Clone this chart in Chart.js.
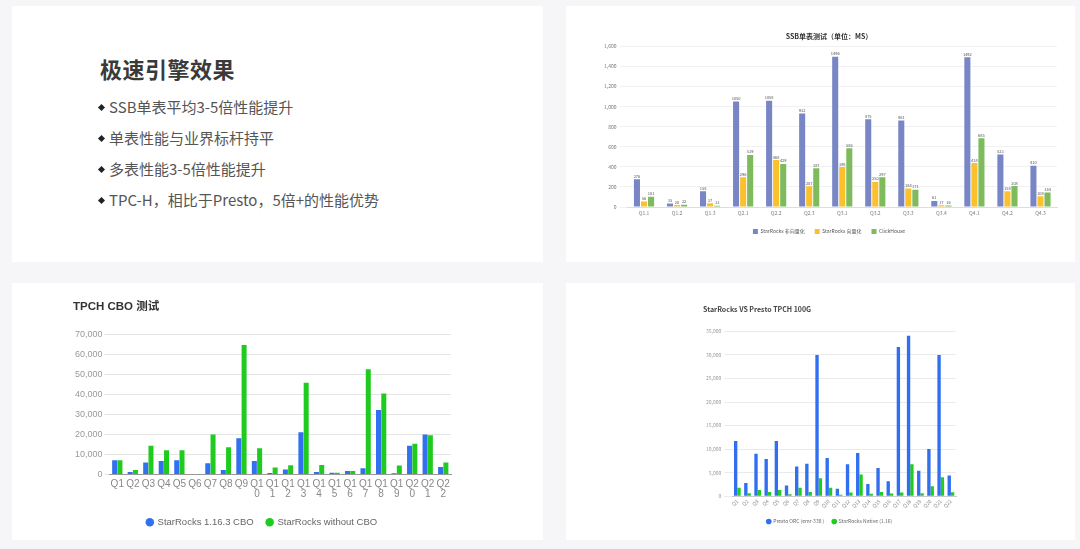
<!DOCTYPE html>
<html lang="zh">
<head>
<meta charset="UTF-8">
<title>极速引擎效果</title>
<script src="https://cdn.jsdelivr.net/npm/chart.js"></script>
<style>
  body { margin: 0; width: 1080px; height: 549px; background: #f6f6f9; position: relative; overflow: hidden;
         font-family: "Noto Sans CJK SC", "Noto Sans", sans-serif; }
  .panel { position: absolute; background: #fff; }
  .panel canvas { position: absolute; left: 0; top: 0; }
  h1 { position: absolute; left: 88px; top: 46px; margin: 0; font-size: 22px; font-weight: 700; color: #3a3a3a; letter-spacing: 0.5px; }
  ul { position: absolute; left: 84px; top: 85px; margin: 0; padding: 0; list-style: none; }
  li { font-size: 15px; color: #555; height: 31px; line-height: 31px; position: relative; padding-left: 13px; }
  li::before { content: ""; position: absolute; left: 3px; top: 14px; width: 5px; height: 5px; background: #222; transform: rotate(45deg); }
</style>
</head>
<body>
<div class="panel" style="left:12px;top:6px;width:531px;height:256px;">
  <h1>极速引擎效果</h1>
  <ul>
    <li>SSB单表平均3-5倍性能提升</li>
    <li>单表性能与业界标杆持平</li>
    <li>多表性能3-5倍性能提升</li>
    <li>TPC-H，相比于Presto，5倍+的性能优势</li>
  </ul>
</div>
<div class="panel" style="left:566px;top:6px;width:509px;height:256px;"><canvas id="ssb" width="509" height="256"></canvas></div>
<div class="panel" style="left:12px;top:283px;width:531px;height:257px;"><canvas id="cbo" width="531" height="257"></canvas></div>
<div class="panel" style="left:566px;top:283px;width:509px;height:257px;"><canvas id="presto" width="509" height="257"></canvas></div>

<script>
// SSB 单表测试
const ssbCats = ['Q1.1', 'Q1.2', 'Q1.3', 'Q2.1', 'Q2.2', 'Q2.3', 'Q3.1', 'Q3.2', 'Q3.3', 'Q3.4', 'Q4.1', 'Q4.2', 'Q4.3'];
const ssbNonVec = [276, 35, 158, 1050, 1058, 932, 1496, 875, 861, 61, 1492, 523, 410];
const ssbVec = [56, 20, 37, 296, 468, 207, 398, 250, 184, 17, 438, 158, 108];
const ssbClick = [101, 22, 13, 519, 429, 387, 586, 297, 171, 16, 685, 208, 144];

// TPCH CBO 测试
const cboCats = ['Q1', 'Q2', 'Q3', 'Q4', 'Q5', 'Q6', 'Q7', 'Q8', 'Q9',
  ['Q1', '0'], ['Q1', '1'], ['Q1', '2'], ['Q1', '3'], ['Q1', '4'], ['Q1', '5'], ['Q1', '6'],
  ['Q1', '7'], ['Q1', '8'], ['Q1', '9'], ['Q2', '0'], ['Q2', '1'], ['Q2', '2']];
const cboWith = [7100, 1200, 6000, 6800, 7100, 300, 5600, 2300, 18200, 6800, 800, 2500, 21200, 1300, 900, 1800, 3100, 32300, 600, 14400, 20000, 3800];
const cboWithout = [7200, 2200, 14400, 12100, 12100, 300, 20000, 13600, 64900, 13100, 3500, 4600, 46000, 4800, 900, 1800, 52800, 40600, 4500, 15400, 19700, 6000];

// StarRocks VS Presto TPCH 100G
const prestoCats = ['Q1', 'Q2', 'Q3', 'Q4', 'Q5', 'Q6', 'Q7', 'Q8', 'Q9', 'Q10', 'Q11',
  'Q12', 'Q13', 'Q14', 'Q15', 'Q16', 'Q17', 'Q18', 'Q19', 'Q20', 'Q21', 'Q22'];
const prestoOrc = [11700, 2800, 9000, 7900, 11700, 2300, 6300, 6900, 30000, 8100, 1600, 6800, 9200, 2600, 6000, 3200, 31700, 34100, 5400, 10000, 30000, 4400];
const srNative = [1800, 640, 1300, 900, 1300, 400, 1800, 900, 3800, 1800, 300, 800, 4600, 500, 900, 600, 800, 6800, 650, 2100, 4000, 850];

const FONT = '"Noto Sans CJK SC", "Noto Sans", sans-serif';
const LAT = '"Liberation Sans", "Noto Sans CJK SC", sans-serif';
Chart.defaults.font.family = FONT;
Chart.defaults.color = '#888';

// small value labels above bars
const barLabels = {
  id: 'barLabels',
  afterDatasetsDraw(chart) {
    const ctx = chart.ctx;
    ctx.save();
    ctx.font = '4px ' + FONT;
    ctx.fillStyle = '#555';
    ctx.textAlign = 'center';
    ctx.textBaseline = 'bottom';
    chart.data.datasets.forEach((ds, i) => {
      chart.getDatasetMeta(i).data.forEach((bar, j) => {
        ctx.fillText(ds.data[j], bar.x, bar.y - 1);
      });
    });
    ctx.restore();
  }
};

new Chart(document.getElementById('ssb'), {
  type: 'bar',
  data: {
    labels: ssbCats,
    datasets: [
      { label: 'StarRocks 非向量化', data: ssbNonVec, backgroundColor: '#7986c6' },
      { label: 'StarRocks 向量化', data: ssbVec, backgroundColor: '#fbc12d' },
      { label: 'ClickHouse', data: ssbClick, backgroundColor: '#7dbb5c' }
    ]
  },
  options: {
    responsive: false,
    animation: false,
    layout: { padding: { left: 35, right: 18, top: 0, bottom: 18 } },
    datasets: { bar: { categoryPercentage: 0.64, barPercentage: 0.86 } },
    plugins: {
      title: { display: true, text: 'SSB单表测试（单位：MS）', color: '#333', font: { size: 7, weight: 'bold' }, padding: { top: 26, bottom: 6 } },
      legend: { position: 'bottom', labels: { boxWidth: 5, boxHeight: 5, font: { size: 5 }, color: '#555', padding: 10 } },
      tooltip: { enabled: false }
    },
    scales: {
      x: { grid: { display: false, drawTicks: false }, border: { color: '#ddd' }, ticks: { font: { size: 5 }, color: '#777', maxRotation: 0, padding: 3 } },
      y: { min: 0, max: 1600, ticks: { stepSize: 200, font: { size: 5 }, color: '#777' },
           grid: { color: '#f1f1f4' }, border: { display: false } }
    }
  },
  plugins: [barLabels]
});

new Chart(document.getElementById('cbo'), {
  type: 'bar',
  data: {
    labels: cboCats,
    datasets: [
      { label: 'StarRocks 1.16.3 CBO', data: cboWith, backgroundColor: '#3170ee' },
      { label: 'StarRocks without CBO', data: cboWithout, backgroundColor: '#1fcb1f' }
    ]
  },
  options: {
    responsive: false,
    animation: false,
    layout: { padding: { left: 61, right: 92, top: 0, bottom: 3 } },
    datasets: { bar: { categoryPercentage: 0.68, barPercentage: 0.95 } },
    plugins: {
      title: { display: true, text: 'TPCH CBO 测试', align: 'start', color: '#333', font: { family: LAT, size: 11.5, weight: 'bold' }, padding: { top: 17, bottom: 21 } },
      legend: { position: 'bottom', labels: { usePointStyle: true, pointStyle: 'circle', boxWidth: 6, boxHeight: 6, font: { family: LAT, size: 9.5 }, color: '#666', padding: 13 } },
      tooltip: { enabled: false }
    },
    scales: {
      x: { grid: { display: false, drawTicks: false }, border: { color: '#999' },
           ticks: { font: { family: LAT, size: 10, lineHeight: 1.0 }, color: '#888', maxRotation: 0, autoSkip: false, padding: 5 } },
      y: { min: 0, max: 70000, ticks: { stepSize: 10000, font: { family: LAT, size: 9 }, color: '#999', padding: 2 },
           grid: { color: '#e4e4e4', tickLength: 5 }, border: { display: false } }
    }
  }
});

new Chart(document.getElementById('presto'), {
  type: 'bar',
  data: {
    labels: prestoCats,
    datasets: [
      { label: 'Presto ORC (emr-338 )', data: prestoOrc, backgroundColor: '#2f6ff0' },
      { label: 'StarRocks Native (1.16)', data: srNative, backgroundColor: '#20cc20' }
    ]
  },
  options: {
    responsive: false,
    animation: false,
    layout: { padding: { left: 137, right: 119, top: 0, bottom: 6 } },
    datasets: { bar: { categoryPercentage: 0.66, barPercentage: 1.0 } },
    plugins: {
      title: { display: true, text: 'StarRocks VS Presto TPCH 100G', align: 'start', color: '#444', font: { size: 7, weight: 'bold' }, padding: { top: 22, bottom: 18 } },
      legend: { position: 'bottom', labels: { usePointStyle: true, pointStyle: 'circle', boxWidth: 4, boxHeight: 4, font: { size: 5 }, color: '#666', padding: 8 } },
      tooltip: { enabled: false }
    },
    scales: {
      x: { grid: { display: false, drawTicks: false }, border: { color: '#ccc' },
           ticks: { font: { size: 5 }, color: '#888', minRotation: 45, maxRotation: 45, autoSkip: false, padding: 2 } },
      y: { min: 0, max: 35000, ticks: { stepSize: 5000, font: { size: 5 }, color: '#999' },
           grid: { color: '#eaeaea' }, border: { display: false } }
    }
  }
});
</script>
</body>
</html>
